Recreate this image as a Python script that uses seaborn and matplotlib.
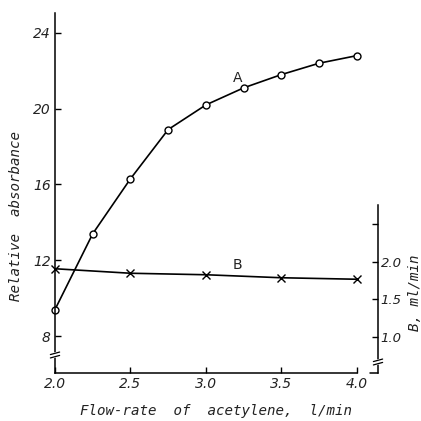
import numpy as np
import pandas as pd
import matplotlib
matplotlib.use("Agg")
import matplotlib.pyplot as plt
from matplotlib.lines import Line2D
import seaborn as sns

# Flow-rate of acetylene (l/min)
flow_a = [2.0, 2.25, 2.5, 2.75, 3.0, 3.25, 3.5, 3.75, 4.0]
# Curve A: relative absorbance
absorbance = [9.4, 13.4, 16.3, 18.9, 20.2, 21.1, 21.8, 22.4, 22.8]
# Curve B: ml/min
flow_b = [2.0, 2.5, 3.0, 3.5, 4.0]
b_rate = [1.91, 1.85, 1.83, 1.79, 1.77]

x_ticks = [2.0, 2.5, 3.0, 3.5, 4.0]
left_ticks = [8, 12, 16, 20, 24]
right_ticks = [1.0, 1.5, 2.0, 2.5]
right_labels = ["1.0", "1.5", "2.0", ""]

sns.set_theme(style="ticks")
plt.rcParams["font.family"] = ["DejaVu Sans"]

W = 421
fig = plt.figure(figsize=(4.21, 4.21), dpi=100)
ax = fig.add_axes([55 / W, 1 - 373 / W, (378 - 55) / W, (373 - 13) / W])
ax2 = ax.twinx()

df_a = pd.DataFrame({"x": flow_a, "y": absorbance})
df_b = pd.DataFrame({"x": flow_b, "y": b_rate})

sns.lineplot(data=df_a, x="x", y="y", ax=ax, color="black", lw=1.2,
             marker="o", markersize=5, markerfacecolor="white",
             markeredgecolor="black", markeredgewidth=1.0, clip_on=False)
sns.lineplot(data=df_b, x="x", y="y", ax=ax2, color="black", lw=1.2,
             marker="x", markersize=5.5, markeredgecolor="black",
             markeredgewidth=1.0, clip_on=False)

ax.set_xlim(2.0, 4.14)
ax.set_ylim(6.05, 25.05)
ax2.set_ylim(0.52, 5.32)

tick_font = dict(family="DejaVu Sans", style="italic", size=10)
right_tick_font = dict(family="DejaVu Sans", style="italic", size=9.5)
label_font = dict(family="DejaVu Sans Mono", style="italic", size=10.2)

ax.set_xticks(x_ticks)
ax.set_xticklabels([f"{v:.1f}" for v in x_ticks], fontdict=tick_font)
ax.set_yticks(left_ticks)
ax.set_yticklabels([str(v) for v in left_ticks], fontdict=tick_font)
ax2.set_yticks(right_ticks)
ax2.set_yticklabels(right_labels, fontdict=right_tick_font)

for a in (ax, ax2):
    a.tick_params(direction="in", length=4, width=1, color="black",
                  labelcolor="#222222", pad=3)
    for s in a.spines.values():
        s.set_color("black")
        s.set_linewidth(1.1)
ax2.tick_params(pad=2)

ax.spines["top"].set_visible(False)
ax.spines["right"].set_visible(False)
ax2.spines["top"].set_visible(False)
ax2.spines["left"].set_visible(False)
ax2.spines["bottom"].set_visible(False)
ax.spines["bottom"].set_bounds(2.0, 4.0)
ax2.spines["right"].set_bounds(0.52, 2.76)

ax.set_xlabel("Flow-rate  of  acetylene,  l/min", fontdict=label_font,
              color="#222222")
ax.xaxis.set_label_coords(0.5, -0.085)
ax.set_ylabel("Relative  absorbance", fontdict=label_font, color="#222222")
ax.yaxis.set_label_coords(-0.1, 0.436)
ax2.set_ylabel("B, ml/min", fontdict=label_font, color="#222222")
ax2.yaxis.set_label_coords(1.092, 0.222)

ax.text(3.21, 21.6, "A", fontsize=10, color="#222222", ha="center", va="center")
ax2.text(3.21, 1.96, "B", fontsize=10, color="#222222", ha="center", va="center")

# Short stub of the base line running into the right-hand axis
fig.add_artist(Line2D([370 / W, 378 / W], [1 - 373 / W, 1 - 373 / W],
                      color="black", lw=1.1))

# Axis-break marks
def brk(px, py):
    cx, cy = px / W, 1 - py / W
    fig.add_artist(Line2D([cx - 0.012, cx + 0.012], [cy - 0.002, cy + 0.002],
                          color="white", lw=4))
    for d in (-0.004, 0.004):
        fig.add_artist(Line2D([cx - 0.011, cx + 0.011],
                              [cy + d - 0.003, cy + d + 0.003],
                              color="black", lw=0.9))

brk(55, 355)
brk(378, 362)

fig.savefig("out.png", dpi=100, facecolor="white")
